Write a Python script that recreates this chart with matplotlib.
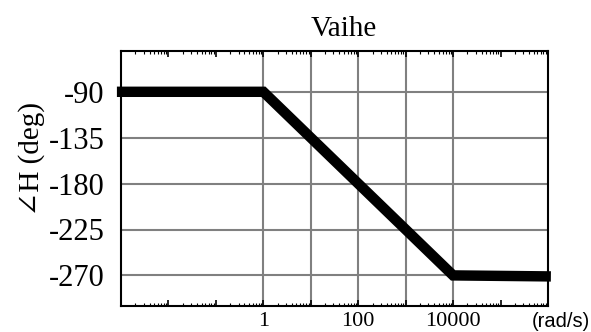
import matplotlib
matplotlib.use("Agg")
import matplotlib.pyplot as plt
from matplotlib.ticker import LogLocator, NullFormatter, FuncFormatter

# Data
freq = [8.2e-4, 1, 1e4, 1.15e6]
phase = [-90, -90, -270, -271]
y_ticks = [-90, -135, -180, -225, -270]
x_grid = [1, 10, 100, 1000, 10000]
x_labels = {1: "1", 100: "100", 10000: "10000"}

plt.rcParams['font.family'] = ['Liberation Serif', 'DejaVu Serif']

fig = plt.figure(figsize=(5.91, 3.32), dpi=100)
ax = fig.add_axes([121/591, 26/332, 427/591, 255/332])

ax.set_xscale('log')
ax.set_xlim(1e-3, 1e6)
ax.set_ylim(-300, -50)

for g in x_grid:
    ax.axvline(g, color='#808080', lw=1.5, zorder=1)
for t in y_ticks:
    ax.axhline(t, color='#808080', lw=1.5, zorder=1)

ax.plot(freq, phase, color='black', lw=7.5, solid_capstyle='butt',
        solid_joinstyle='miter', clip_on=False, zorder=3)

ax.set_yticks(y_ticks)
ax.set_yticklabels([str(t) for t in y_ticks], fontsize=22)
ax.tick_params(axis='y', length=0, pad=12)

ax.xaxis.set_major_locator(LogLocator(base=10, numticks=20))
ax.xaxis.set_minor_locator(LogLocator(base=10, subs=range(2, 10), numticks=20))
ax.xaxis.set_minor_formatter(NullFormatter())

def fmt(v, pos):
    for k, s in x_labels.items():
        if abs(v - k) / k < 1e-6:
            return s
    return ""
ax.xaxis.set_major_formatter(FuncFormatter(fmt))
ax.tick_params(axis='x', which='major', direction='in', length=4, width=1.2,
               top=True, bottom=True, labelsize=16, pad=4)
ax.tick_params(axis='x', which='minor', direction='in', length=2, width=0.8,
               top=True, bottom=True)

for s in ax.spines.values():
    s.set_linewidth(1.5)
    s.set_color('black')

ax.set_title("Vaihe", fontsize=21, pad=11, x=0.522)
ax.set_ylabel("∠H (deg)", fontsize=21)
ax.yaxis.set_label_coords(-0.178, 0.576)

fig.text(0.998, 0.002, "(rad/s)", ha='right', va='bottom', fontsize=14.5,
         family=['Liberation Sans', 'DejaVu Sans'])

fig.savefig("out.png", dpi=100)
